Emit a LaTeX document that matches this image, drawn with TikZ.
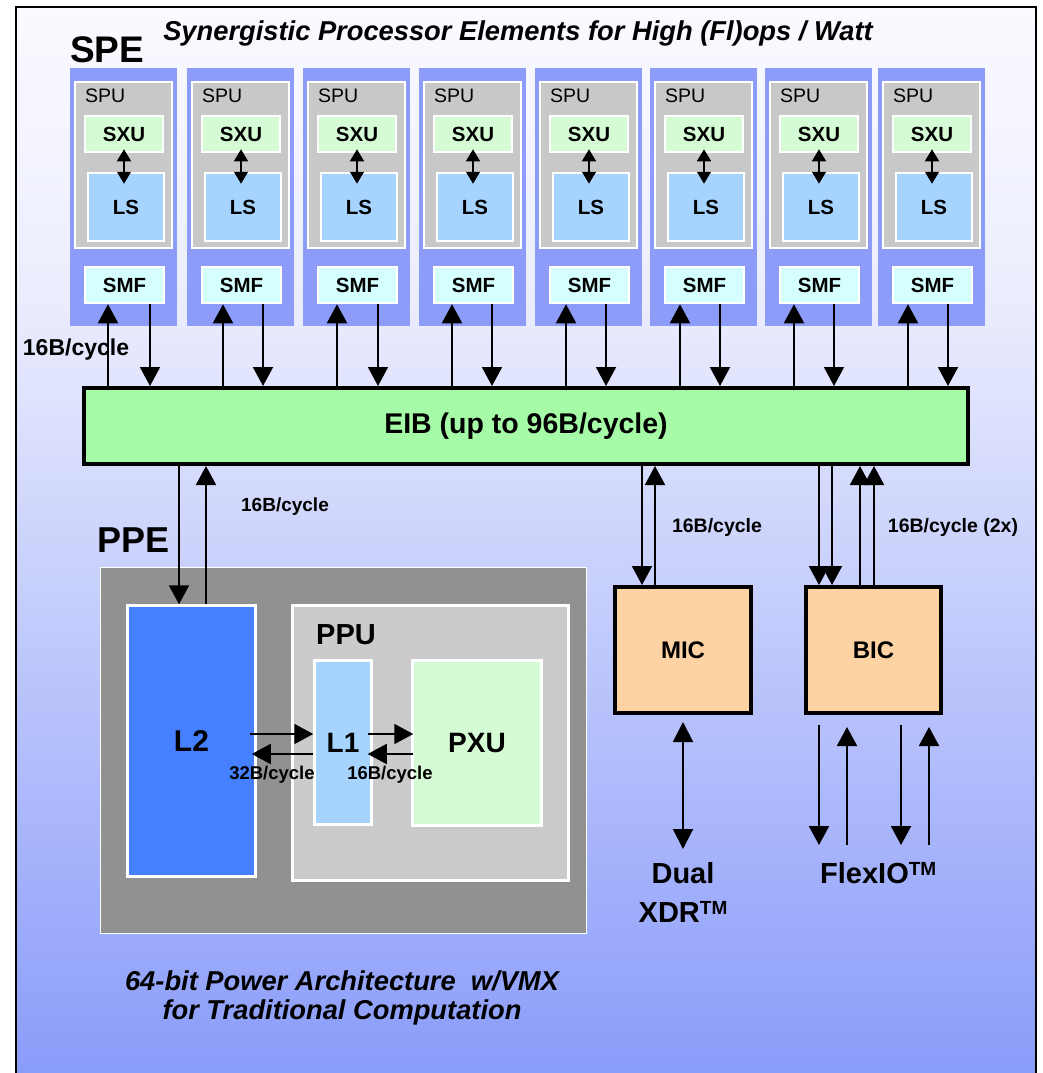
\documentclass[tikz,border=0pt]{standalone}
\usepackage{fontspec}
\setmainfont{Liberation Sans}
\usetikzlibrary{arrows.meta}

\definecolor{spebg}{RGB}{140,156,248}
\definecolor{spugray}{RGB}{200,200,200}
\definecolor{sxufill}{RGB}{213,251,213}
\definecolor{lsfill}{RGB}{166,212,255}
\definecolor{smffill}{RGB}{213,255,255}
\definecolor{eibfill}{RGB}{166,252,166}
\definecolor{ppegray}{RGB}{145,145,145}
\definecolor{ppugray}{RGB}{203,203,203}
\definecolor{ltwofill}{RGB}{68,128,255}
\definecolor{micfill}{RGB}{254,211,164}
\definecolor{bgtop}{RGB}{250,250,255}
\definecolor{bgmid}{RGB}{235,237,253}
\definecolor{bgbot}{RGB}{138,156,250}

\newcommand\fsz[1]{\fontsize{#1}{#1}\selectfont}
\newcommand\tmark{\raisebox{8pt}{\fsz{19}TM}}

\begin{document}
\begin{tikzpicture}[x=1pt,y=-1pt,
  arr/.style={line width=2pt,-{Triangle[width=20pt,length=19pt]}},
  darr/.style={line width=2pt,{Triangle[width=20pt,length=20pt]}-{Triangle[width=20pt,length=20pt]}},
  sarr/.style={line width=1.5pt,{Triangle[width=14pt,length=12pt]}-{Triangle[width=14pt,length=12pt]}},
  box/.style={rectangle, inner sep=0pt},
  wbox/.style={box, draw=white, line width=2.5pt},
  kbox/.style={box, draw=black, line width=4pt},
  txt/.style={inner sep=0pt},
]
\useasboundingbox (0,0) rectangle (1043,1073);
\fill[white] (0,0) rectangle (1043,1073);
\shade[top color=bgtop,bottom color=bgmid] (16,7) rectangle (1036,300);
\shade[top color=bgmid,bottom color=bgbot] (16,299.5) rectangle (1036,1073);
\draw[line width=2pt] (16,1073) -- (16,7) -- (1036,7) -- (1036,1073);

% title
\node[txt, font=\fsz{27.3}\bfseries\itshape] (title) at (518,33) {Synergistic Processor Elements for High (Fl)ops / Watt};
\node[txt, anchor=west, font=\fsz{37}\bfseries] (spe) at (70,50) {SPE};

% EIB
\node[kbox, fill=eibfill, minimum width=884pt, minimum height=76pt, font=\fsz{28.5}\bfseries] (eib) at (526,426) {EIB (up to 96B/cycle)};

% SPE columns
\foreach \L/\U/\D [count=\i] in {70/108/150, 187/223/263, 303/337/378, 419/452/492, 535/566/606, 650/680/720, 765/794/834, 878/908/948}{
  \node[box, fill=spebg, minimum width=107pt, minimum height=258pt] (spe\i) at (\L+53.5,197) {};
  \node[wbox, fill=spugray, minimum width=97pt, minimum height=166pt] (spu\i) at (\L+53.5,165) {};
  \node[txt, anchor=west, font=\fsz{19.5}] (spul\i) at (\L+15,96) {SPU};
  \node[wbox, fill=sxufill, minimum width=78pt, minimum height=36pt, font=\fsz{20.5}\bfseries] (sxu\i) at (\L+54,134) {SXU};
  \node[wbox, fill=lsfill, minimum width=76pt, minimum height=68pt, font=\fsz{20.5}\bfseries] (ls\i) at (\L+56,207) {LS};
  \node[wbox, fill=smffill, minimum width=79pt, minimum height=36pt, font=\fsz{20.5}\bfseries] (smf\i) at (\L+54.5,285) {SMF};
  \coordinate (lt\i) at (sxu\i.south |- ls\i.north);
  \draw[sarr] ([yshift=4pt]sxu\i.south) -- ([yshift=-12pt]lt\i);
  \coordinate (cu\i) at (\U,0);
  \coordinate (cd\i) at (\D,0);
  \draw[arr] (cu\i |- eib.north) -- (cu\i |- smf\i.south);
  \draw[arr] (cd\i |- smf\i.south) -- (cd\i |- eib.north);
}
\node[txt, font=\fsz{23}\bfseries] (lbspe) at (76,350) {16B/cycle};

% PPE
\node[txt, anchor=west, font=\fsz{36}\bfseries] (ppel) at (97,540) {PPE};
\node[box, fill=ppegray, draw=white, line width=1.5pt, minimum width=486pt, minimum height=366pt] (ppe) at (343.5,750.5) {};
\node[wbox, fill=ltwofill, minimum width=128pt, minimum height=271pt, font=\fsz{30}\bfseries] (ltwo) at (191.5,741) {L2};
\node[wbox, fill=ppugray, minimum width=276pt, minimum height=275pt] (ppu) at (430.5,743) {};
\node[txt, anchor=west, font=\fsz{29}\bfseries] (ppul) at (316,635) {PPU};
\node[wbox, fill=lsfill, minimum width=57pt, minimum height=164pt, font=\fsz{28}\bfseries] (lone) at (343,742.5) {L1};
\node[wbox, fill=sxufill, minimum width=129pt, minimum height=165pt, font=\fsz{28}\bfseries] (pxu) at (477,743) {PXU};

\coordinate (pd) at (179,0);
\coordinate (pu) at (206,0);
\draw[arr] (pd |- eib.south) -- (pd |- ltwo.north);
\draw[arr] (pu |- ltwo.north) -- (pu |- eib.south);
\node[txt, font=\fsz{19}\bfseries] (lbppe) at (285,507) {16B/cycle};

\coordinate (ya) at (0,734);
\coordinate (yb) at (0,754);
\draw[arr] ([xshift=-7pt]ltwo.east |- ya) -- (lone.west |- ya);
\draw[arr] (lone.west |- yb) -- ([xshift=-5pt]ltwo.east |- yb);
\draw[arr] ([xshift=-5pt]lone.east |- ya) -- ([xshift=2pt]pxu.west |- ya);
\draw[arr] ([xshift=2pt]pxu.west |- yb) -- ([xshift=-5pt]lone.east |- yb);
\node[txt, font=\fsz{18.5}\bfseries] (lbtt) at (272,775) {32B/cycle};
\node[txt, font=\fsz{18.5}\bfseries] (lbos) at (390,775) {16B/cycle};

% MIC / BIC
\node[kbox, fill=micfill, minimum width=136pt, minimum height=126pt, font=\fsz{24}\bfseries] (mic) at (683,650) {MIC};
\node[kbox, fill=micfill, minimum width=135pt, minimum height=126pt, font=\fsz{24}\bfseries] (bic) at (873.5,650) {BIC};

\coordinate (md) at (642,0);
\coordinate (mu) at (655,0);
\draw[arr] (md |- eib.south) -- (md |- mic.north);
\draw[arr] (mu |- mic.north) -- (mu |- eib.south);
\node[txt, font=\fsz{19.5}\bfseries] (lbmic) at (717,527) {16B/cycle};

\coordinate (bd1) at (819,0);
\coordinate (bd2) at (832,0);
\coordinate (bu1) at (860,0);
\coordinate (bu2) at (874,0);
\draw[arr] (bd1 |- eib.south) -- (bd1 |- bic.north);
\draw[arr] (bd2 |- eib.south) -- (bd2 |- bic.north);
\draw[arr] (bu1 |- bic.north) -- (bu1 |- eib.south);
\draw[arr] (bu2 |- bic.north) -- (bu2 |- eib.south);
\node[txt, font=\fsz{19.5}\bfseries] (lbbic) at (953,527) {16B/cycle (2x)};

% external
\node[txt, font=\fsz{29}\bfseries] (dual) at (683,873) {Dual};
\node[txt, font=\fsz{29}\bfseries] (xdr) at (683,912) {XDR\tmark};
\coordinate (xe) at (683,849);
\draw[darr] ([yshift=-7pt]mic.south) -- (xe);

\node[txt, anchor=west, font=\fsz{29}\bfseries] (flex) at (820,873) {FlexIO\tmark};
\coordinate (fa) at (819,845);
\coordinate (fb) at (847,845);
\coordinate (fc) at (901,845);
\coordinate (fd) at (929,845);
\draw[arr] ([yshift=-10pt]bic.south -| fa) -- (fa);
\draw[arr] (fb) -- ([yshift=-12pt]bic.south -| fb);
\draw[arr] ([yshift=-10pt]bic.south -| fc) -- (fc);
\draw[arr] (fd) -- ([yshift=-12pt]bic.south -| fd);

% bottom text
\node[txt, font=\fsz{27.3}\bfseries\itshape] (bt1) at (342,981) {64-bit Power Architecture\ \ w/VMX};
\node[txt, font=\fsz{27.3}\bfseries\itshape] (bt2) at (342,1012) {for Traditional Computation};
\end{tikzpicture}
\end{document}
